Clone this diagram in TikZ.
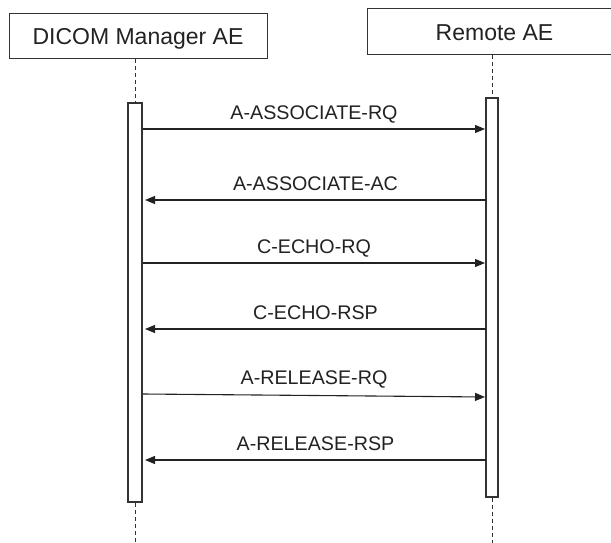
\documentclass[tikz,border=0pt]{standalone}
\usepackage{fontspec}
\setmainfont{Liberation Sans}
\usetikzlibrary{arrows.meta}
\definecolor{ink}{HTML}{222222}
\definecolor{edge}{HTML}{333333}
\begin{document}
\begin{tikzpicture}[x=1pt,y=-1pt,
  actor/.style={draw=edge,line width=1pt,fill=white,rectangle,inner sep=0pt,
    text=ink,font=\fontsize{23}{27}\selectfont,text height=16.5pt,text depth=0pt},
  bar/.style={draw=edge,line width=1.1pt,fill=white,rectangle,inner sep=0pt,minimum width=#1},
  life/.style={draw=edge,line width=0.9pt,dash pattern=on 4pt off 3pt},
  msg/.style={draw=ink,line width=1.1pt,-{Triangle[length=10pt,width=8pt]}},
  lbl/.style={midway,anchor=base,yshift=10pt,text=ink,font=\fontsize{19.7}{24}\selectfont,inner sep=0pt}]
\clip (0,0) rectangle (611,543);
\fill[white] (0,0) rectangle (611,543);
% actors
\node[actor,minimum width=258pt,minimum height=45pt] (mgr) at (138,36.5) {DICOM Manager AE};
\node[actor,minimum width=255pt,minimum height=46pt] (rem) at (494.5,32) {Remote AE};
% lifeline ends
\coordinate (mgrtop) at (135,59);
\coordinate (remtop) at (492,55);
\coordinate (mgrend) at (135,543);
\coordinate (remend) at (492,543);
% activation bars
\node[bar=14pt,minimum height=399pt] (lb) at (135,302.5) {};
\node[bar=12pt,minimum height=399pt] (rb) at (492,297.5) {};
% lifelines
\draw[life] (mgrtop) -- (lb.north);
\draw[life] (remtop) -- (rb.north);
\draw[life] (lb.south) -- (mgrend);
\draw[life] (rb.south) -- (remend);
% message end points
\coordinate (l1) at (143,129); \coordinate (r1) at (485,129);
\coordinate (l2) at (145,200); \coordinate (r2) at (486,200);
\coordinate (l3) at (143,263); \coordinate (r3) at (485,263);
\coordinate (l4) at (145,329); \coordinate (r4) at (486,329);
\coordinate (l5) at (143,394); \coordinate (r5) at (485,397);
\coordinate (l6) at (145,460); \coordinate (r6) at (486,460);
% messages
\draw[msg] (l1) -- node[lbl] {A-ASSOCIATE-RQ} (r1);
\draw[msg] (r2) -- node[lbl] {A-ASSOCIATE-AC} (l2);
\draw[msg] (l3) -- node[lbl] {C-ECHO-RQ} (r3);
\draw[msg] (r4) -- node[lbl] {C-ECHO-RSP} (l4);
\draw[msg] (l5) -- node[lbl,yshift=1.5pt] {A-RELEASE-RQ} (r5);
\draw[msg] (r6) -- node[lbl] {A-RELEASE-RSP} (l6);
\end{tikzpicture}
\end{document}
